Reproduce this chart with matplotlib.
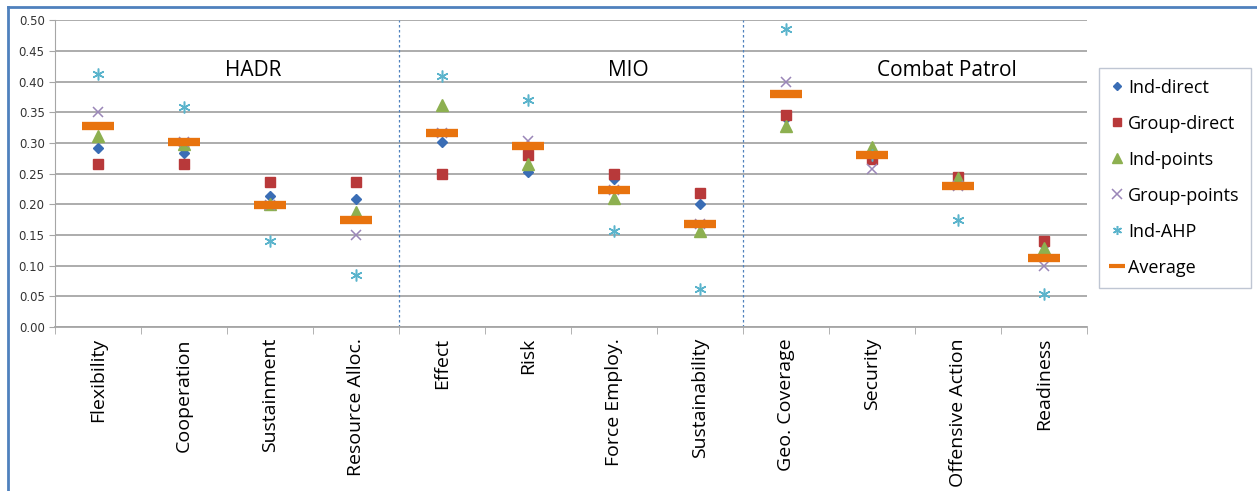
import numpy as np
import matplotlib.pyplot as plt
from matplotlib.lines import Line2D

# criteria (x categories) and the three mission groups
criteria = ['Flexibility', 'Cooperation', 'Sustainment', 'Resource Alloc.',
            'Effect', 'Risk', 'Force Employ.', 'Sustainability',
            'Geo. Coverage', 'Security', 'Offensive Action', 'Readiness']
groups = ['HADR', 'MIO', 'Combat Patrol']

# weights
ind_direct = [0.292, 0.284, 0.213, 0.209, 0.302, 0.253, 0.241, 0.200, 0.340, 0.280, 0.242, 0.133]
group_direct = [0.265, 0.265, 0.236, 0.236, 0.250, 0.281, 0.250, 0.219, 0.345, 0.273, 0.245, 0.140]
ind_points = [0.311, 0.298, 0.200, 0.188, 0.361, 0.266, 0.210, 0.156, 0.328, 0.294, 0.243, 0.128]
group_points = [0.350, 0.302, 0.198, 0.150, 0.316, 0.303, 0.223, 0.168, 0.400, 0.258, 0.230, 0.100]
ind_ahp = [0.413, 0.359, 0.140, 0.084, 0.409, 0.370, 0.157, 0.062, 0.485, 0.281, 0.175, 0.053]
average = [0.327, 0.302, 0.198, 0.175, 0.316, 0.295, 0.223, 0.168, 0.379, 0.280, 0.230, 0.113]

x = np.arange(len(criteria))

fig = plt.figure(figsize=(12.57, 4.91), dpi=100)
ax = fig.add_axes([0.0438, 0.334, 0.821, 0.625])

# plot each series (later series drawn on top, like excel)
ax.plot(x, ind_direct, 'D', color='#3A6DB5', ms=5, ls='none', label='Ind-direct', zorder=3)
ax.plot(x, group_direct, 's', color='#B8393A', ms=7, ls='none', label='Group-direct', zorder=3)
ax.plot(x, ind_points, '^', color='#8DB050', ms=8, ls='none', label='Ind-points', zorder=3)
ax.plot(x, group_points, 'x', color='#9A86B8', ms=7, mew=1.1, ls='none', label='Group-points', zorder=3)
ax.plot(x, ind_ahp, marker=(6, 2, 0), color='#5BB4CC', ms=8.5, mew=1.1, ls='none', label='Ind-AHP', zorder=3)
ax.plot(x, average, '_', color='#E8730E', ms=23, mew=6, ls='none', label='Average', zorder=4)

ax.set_xlim(-0.5, len(criteria) - 0.5)
ax.set_ylim(0, 0.5)
ax.set_yticks(np.arange(0, 0.501, 0.05))
ax.set_yticklabels(['%.2f' % v for v in np.arange(0, 0.501, 0.05)], fontsize=8.5, color='#333333')
ax.yaxis.grid(True, color='#A6A6A6', lw=1.3)
ax.set_axisbelow(True)

ax.set_xticks(x)
ax.set_xticklabels(criteria, rotation=90, fontsize=14, family='Open Sans')
ax.tick_params(axis='x', length=0, pad=8)
ax.set_xticks(np.arange(-0.5, len(criteria), 1), minor=True)
ax.tick_params(axis='x', which='minor', length=5, color='#A6A6A6')
ax.tick_params(axis='y', length=4, color='#A6A6A6')

for s in ['top', 'right']:
    ax.spines[s].set_visible(False)
ax.spines['left'].set_color('#A6A6A6')
ax.spines['bottom'].set_color('#A6A6A6')
ax.spines['bottom'].set_linewidth(1.3)

# group separators and titles
for b in [3.5, 7.5]:
    ax.axvline(b, color='#4F81BD', ls=(0, (2, 2)), lw=0.9)
title_x = [1.8, 6.17, 9.87]
for tx, g in zip(title_x, groups):
    ax.text(tx, 0.418, g, ha='center', va='center', fontsize=15, family='Open Sans')

leg = ax.legend(loc='upper left', bbox_to_anchor=(1.012, 0.845), fontsize=13,
                frameon=True, fancybox=False, borderpad=0.6, labelspacing=1.0,
                handlelength=0.7, handletextpad=0.3, borderaxespad=0)
leg.get_frame().set_edgecolor('#B0B8C8')
leg.get_frame().set_linewidth(1.0)
for t in leg.get_texts():
    t.set_family('Open Sans')
for h, s in zip(leg.legend_handles, [4.5, 6, 6.5, 6.5, 6.5, 11]):
    h.set_markersize(s)
leg.legend_handles[-1].set_markeredgewidth(3)

# outer blue frame
fig.add_artist(Line2D([8 / 1257, 1.0], [1 - 7 / 491, 1 - 7 / 491], color='#4F81BD', lw=2,
                      transform=fig.transFigure))
fig.add_artist(Line2D([8 / 1257, 8 / 1257], [0, 1 - 7 / 491], color='#4F81BD', lw=2,
                      transform=fig.transFigure))

fig.savefig('out.png', dpi=100)
